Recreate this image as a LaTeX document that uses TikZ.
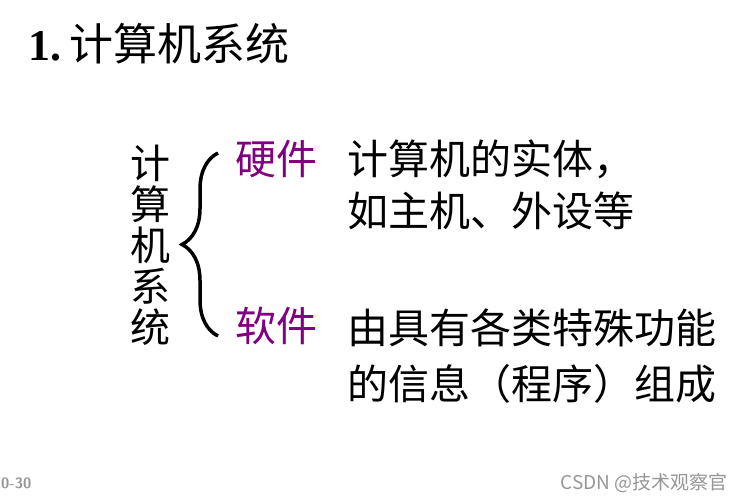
\documentclass[tikz,border=0pt]{standalone}
\usepackage{fontspec}
\setmainfont{Liberation Serif}
\newfontfamily\cjk{Noto Sans CJK SC}
\usetikzlibrary{decorations.pathreplacing,positioning}
\definecolor{partcolor}{RGB}{128,0,128}
\definecolor{footgray}{RGB}{150,150,150}
\tikzset{
  bigtext/.style={font=\cjk\fontsize{41}{41}\selectfont, inner sep=0pt, anchor=west},
  parttext/.style={bigtext, text=partcolor},
  foottext/.style={font=\cjk\fontsize{19}{19}\selectfont, text=footgray, inner sep=0pt},
}
\begin{document}
\begin{tikzpicture}[x=1pt, y=-1pt]
  \useasboundingbox (0,0) rectangle (741,502);
  % titel
  \node[anchor=west, inner sep=0pt, font=\fontsize{44}{44}\selectfont] (title) at (28,44)
        {\textbf{1.}\hspace{8pt}{\cjk 计算机系统}};
  % links, senkrecht
  \node[font=\cjk\fontsize{40}{41}\selectfont, align=center, inner sep=0pt] (sys) at (150,245)
        {计\\算\\机\\系\\统};
  % klammer
  \coordinate (bt) at (218,153);
  \coordinate (bb) at (218,336);
  \draw[decorate, decoration={brace, amplitude=36pt}, line width=3.5pt] (bb) -- (bt);
  % die zwei teile
  \node[parttext] (hw) at (235,159) {硬件};
  \node[parttext] (sw) at (235,326) {软件};
  \node[bigtext] (hw1) at (347,159) {计算机的实体，};
  \node[bigtext] (hw2) at (347,211) {如主机、外设等};
  \node[bigtext] (sw1) at (347,328) {由具有各类特殊功能};
  \node[bigtext] (sw2) at (347,384) {的信息（程序）组成};
  % fuss
  \node[foottext, anchor=west, font=\sffamily\bfseries\fontsize{15}{15}\selectfont] (page) at (1,483) {0-30};
  \node[foottext, anchor=east] (mark) at (728,483) {CSDN @技术观察官};
\end{tikzpicture}
\end{document}
